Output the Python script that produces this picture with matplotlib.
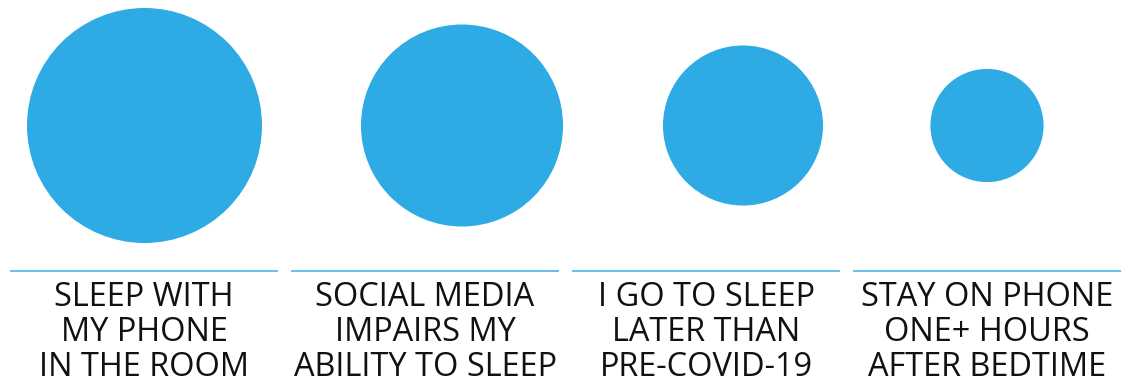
import numpy as np
import matplotlib.pyplot as plt
from matplotlib.patches import Circle

# Data
labels = ['SLEEP WITH\nMY PHONE\nIN THE ROOM',
          'SOCIAL MEDIA\nIMPAIRS MY\nABILITY TO SLEEP',
          'I GO TO SLEEP\nLATER THAN\nPRE-COVID-19',
          'STAY ON PHONE\nONE+ HOURS\nAFTER BEDTIME']
values = [69, 51, 32, 16]

# Layout
blue = '#2eaae5'
line_col = '#5cbbe8'
circle_x = [144.5, 462, 743, 987]
circle_y = 125.5
r_max = 117.5
panel_left = [10, 291, 572, 853]
panel_w = 268

fig = plt.figure(figsize=(11.23, 3.85), dpi=100)
ax = fig.add_axes([0, 0, 1, 1])
ax.set_xlim(0, 1123)
ax.set_ylim(385, 0)
ax.axis('off')

vmax = max(values)
for ii, v in enumerate(values):
    r = r_max * np.sqrt(v / vmax)
    ax.add_patch(Circle((circle_x[ii], circle_y), r, color=blue, lw=0))
    x0 = panel_left[ii]
    ax.plot([x0, x0 + panel_w], [271, 271], color=line_col, lw=1.3, solid_capstyle='butt')
    ax.text(x0 + panel_w / 2, 280.5, labels[ii], ha='center', va='top',
            fontsize=23.4, family='Open Sans', color='#111111', linespacing=1.09)

fig.savefig('out.png', dpi=100)
